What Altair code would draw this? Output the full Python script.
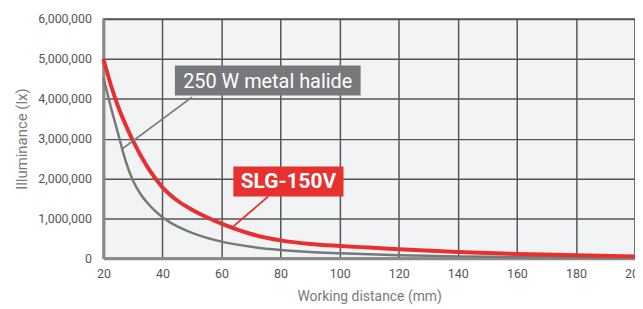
import altair as alt
import pandas as pd

# Working distance (mm) and illuminance (lx)
slg_x = [20, 22.5, 25, 27.5, 30, 35, 40, 45, 50, 55, 60, 70, 80, 90, 100, 110, 120, 140, 160, 180, 200]
slg_y = [5000000, 4350000, 3800000, 3350000, 2950000, 2280000, 1780000, 1450000, 1220000,
         1030000, 870000, 610000, 450000, 360000, 310000, 270000, 230000, 160000, 110000,
         80000, 50000]
mh_x = [20, 22.5, 25, 27.5, 30, 32.5, 35, 37.5, 40, 45, 50, 60, 70, 80, 90, 100, 120, 140, 160, 180, 200]
mh_y = [4530000, 3800000, 3120000, 2450000, 1950000, 1620000, 1380000, 1190000, 1030000,
        800000, 640000, 420000, 290000, 210000, 160000, 130000, 80000, 50000, 35000, 25000, 20000]

labels = ["250 W metal halide", "SLG-150V"]
label_colors = ["#77787b", "#e8312f"]
# label boxes (data coords): x, x2, y, y2
box_x = [44.2, 64.0]
box_x2 = [107.1, 101.3]
box_y = [4830000, 2300000]
box_y2 = [4080000, 1550000]
# leader lines (data coords)
lead_x = [50.0, 75.8]
lead_x2 = [26.5, 64.0]
lead_y = [4040000, 1550000]
lead_y2 = [2750000, 800000]

FONT = "Roboto, sans-serif"

df = pd.concat([
    pd.DataFrame({"x": mh_x, "y": mh_y, "s": "mh"}),
    pd.DataFrame({"x": slg_x, "y": slg_y, "s": "slg"}),
])
ann = pd.DataFrame({
    "label": labels, "color": label_colors,
    "bx": box_x, "bx2": box_x2, "by": box_y, "by2": box_y2,
    "lx": lead_x, "lx2": lead_x2, "ly": lead_y, "ly2": lead_y2,
})
ann["tx"] = (ann["bx"] + ann["bx2"]) / 2
ann["ty"] = (ann["by"] + ann["by2"]) / 2

xs = alt.Scale(domain=[20, 200], nice=False)
ys = alt.Scale(domain=[0, 6000000], nice=False)

xaxis = alt.Axis(values=list(range(20, 201, 20)), title="Working distance (mm)",
                 grid=True, gridColor="#555555", gridWidth=1.5, ticks=False,
                 domainColor="#8a8a8a", domainWidth=3, labelPadding=9,
                 labelFlush=False, labelOverlap=False,
                 labelFontSize=12.5, labelColor="#555555", labelFont=FONT,
                 titleFont=FONT, titleFontSize=14, titleColor="#7a7a7a",
                 titleFontWeight="normal", titlePadding=10)
yaxis = alt.Axis(values=list(range(0, 6000001, 1000000)), format=",d",
                 title="Illuminance (lx)",
                 grid=True, gridColor="#555555", gridWidth=1.5, ticks=False,
                 domainColor="#8a8a8a", domainWidth=3, labelPadding=12,
                 labelFlush=False, labelOverlap=False,
                 labelFontSize=12.5, labelColor="#555555", labelFont=FONT,
                 titleFont=FONT, titleFontSize=15, titleColor="#7a7a7a",
                 titleFontWeight="normal", titlePadding=8)

base = alt.Chart(df)
mh_line = base.transform_filter(alt.datum.s == "mh").mark_line(
    color="#77787b", strokeWidth=2.5, interpolate="monotone"
).encode(x=alt.X("x:Q", scale=xs, axis=xaxis), y=alt.Y("y:Q", scale=ys, axis=yaxis))
slg_line = base.transform_filter(alt.datum.s == "slg").mark_line(
    color="#e8312f", strokeWidth=4, interpolate="monotone"
).encode(x=alt.X("x:Q", scale=xs), y=alt.Y("y:Q", scale=ys))

a = alt.Chart(ann)
leads = a.mark_rule(strokeWidth=1.8).encode(
    x=alt.X("lx:Q", scale=xs), x2="lx2", y=alt.Y("ly:Q", scale=ys), y2="ly2",
    color=alt.Color("color:N", scale=None))
boxes = a.mark_rect().encode(
    x=alt.X("bx:Q", scale=xs), x2="bx2", y=alt.Y("by:Q", scale=ys), y2="by2",
    color=alt.Color("color:N", scale=None))
t1 = a.transform_filter(alt.datum.label == labels[0]).mark_text(
    color="white", font=FONT, fontSize=20, baseline="middle", align="center", dy=1
).encode(x=alt.X("tx:Q", scale=xs), y=alt.Y("ty:Q", scale=ys), text="label:N")
t2 = a.transform_filter(alt.datum.label == labels[1]).mark_text(
    color="white", font=FONT, fontSize=21, fontWeight="bold", baseline="middle",
    align="center", dy=1
).encode(x=alt.X("tx:Q", scale=xs), y=alt.Y("ty:Q", scale=ys), text="label:N")

chart = alt.layer(mh_line, slg_line, leads, boxes, t1, t2).properties(
    width=535, height=241,
    autosize=alt.AutoSizeParams(type="none"),
    padding={"left": 96, "top": 10, "right": 0, "bottom": 50},
    background="white",
).configure_view(fill="#f2f3f5", stroke="#555555", strokeWidth=1.5)

chart.save("out.html", embed_options={"renderer": "svg", "actions": False})
